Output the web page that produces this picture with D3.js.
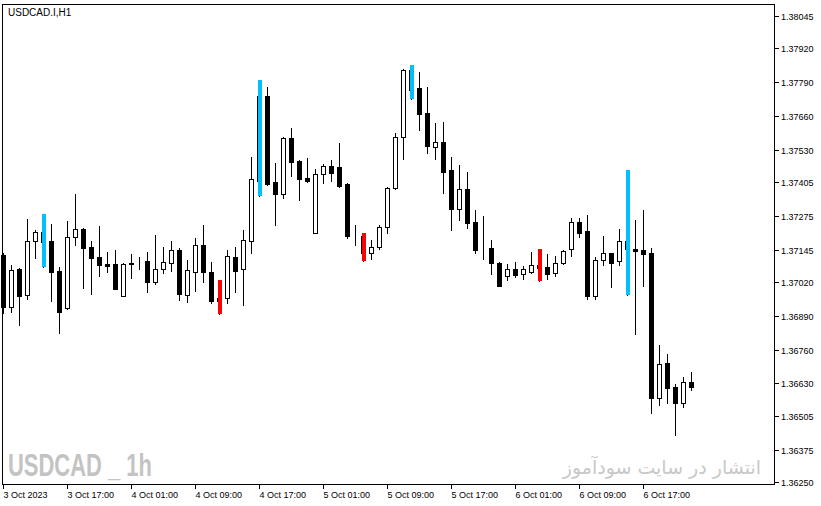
<!DOCTYPE html>
<html>
<head>
<meta charset="utf-8">
<script src="https://cdn.jsdelivr.net/npm/d3@7"></script>
<style>
	body { margin: 0; background: #fff; }
	svg { display: block; }
	text { font-family: "Liberation Sans", Arial, sans-serif; }
</style>
</head>
<body>
<svg id="chart" width="821" height="506"></svg>
<script>
// USDCAD.I H1, one candle per hour from 3 Oct 2023 09:00
var opens = [1.37125,1.36926,1.37071,1.36970,1.37178,1.37212,1.37179,1.37063,1.36922,1.37193,
	1.37225,1.37156,1.37117,1.37089,1.37090,1.36968,1.37089,1.37096,1.37102,1.37022,
	1.37070,1.37093,1.37144,1.36971,1.37060,1.37163,1.37058,1.36958,1.36958,1.37117,
	1.37070,1.37180,1.37411,1.37735,1.37406,1.37361,1.37575,1.37488,1.37421,1.37211,
	1.37436,1.37468,1.37463,1.37398,1.37198,1.37199,1.37131,1.37157,1.37231,1.37382,
	1.37578,1.37837,1.37768,1.37673,1.37542,1.37560,1.37452,1.37303,1.37379,1.37251,
	1.37146,1.37151,1.37094,1.37043,1.37070,1.37051,1.37058,1.37086,1.37078,1.37054,
	1.37093,1.37147,1.37251,1.37217,1.36968,1.37104,1.37131,1.37100,1.37179,1.37147,
	1.37144,1.37131,1.36575,1.36708,1.36615,1.36553,1.36636];
var highs = [1.37134,1.37086,1.37074,1.37262,1.37221,1.37283,1.37244,1.37077,1.37255,1.37360,
	1.37230,1.37179,1.37236,1.37137,1.37144,1.37094,1.37130,1.37116,1.37135,1.37202,
	1.37154,1.37179,1.37151,1.37105,1.37189,1.37240,1.37099,1.37029,1.37143,1.37156,
	1.37221,1.37501,1.37799,1.37773,1.37480,1.37580,1.37614,1.37491,1.37498,1.37457,
	1.37475,1.37491,1.37555,1.37400,1.37240,1.37208,1.37183,1.37240,1.37388,1.37596,
	1.37841,1.37857,1.37830,1.37771,1.37634,1.37637,1.37501,1.37471,1.37443,1.37298,
	1.37275,1.37183,1.37098,1.37090,1.37098,1.37082,1.37136,1.37148,1.37129,1.37121,
	1.37144,1.37266,1.37266,1.37279,1.37118,1.37198,1.37132,1.37225,1.37452,1.37260,
	1.37298,1.37151,1.36778,1.36743,1.36628,1.36653,1.36674];
var lows = [1.36901,1.36903,1.36855,1.36956,1.37114,1.37080,1.36949,1.36825,1.36918,1.37161,
	1.36999,1.36976,1.37045,1.37057,1.36994,1.36967,1.37034,1.37070,1.36983,1.37013,
	1.37054,1.37063,1.36951,1.36945,1.36987,1.37022,1.36941,1.36898,1.36939,1.36983,
	1.36932,1.37131,1.37352,1.37394,1.37240,1.37345,1.37429,1.37337,1.37407,1.37210,
	1.37403,1.37411,1.37386,1.37189,1.37163,1.37103,1.37110,1.37148,1.37208,1.37379,
	1.37493,1.37726,1.37606,1.37519,1.37496,1.37362,1.37221,1.37260,1.37227,1.37134,
	1.37110,1.37052,1.37005,1.37029,1.37038,1.37031,1.37056,1.37026,1.37032,1.37045,
	1.37089,1.37122,1.37195,1.36953,1.36954,1.37087,1.37003,1.37084,1.36971,1.36820,
	1.37005,1.36517,1.36547,1.36556,1.36431,1.36540,1.36605];
var closes = [1.36926,1.37067,1.36968,1.37179,1.37212,1.37176,1.37060,1.36906,1.37193,1.37224,
	1.37153,1.37111,1.37087,1.37082,1.36995,1.37089,1.37093,1.37098,1.37022,1.37070,
	1.37097,1.37143,1.36973,1.37066,1.37163,1.37058,1.36949,1.36949,1.37121,1.37064,
	1.37181,1.37416,1.37737,1.37398,1.37360,1.37575,1.37483,1.37419,1.37411,1.37436,
	1.37467,1.37442,1.37392,1.37199,1.37196,1.37131,1.37157,1.37231,1.37382,1.37578,
	1.37837,1.37760,1.37668,1.37546,1.37560,1.37446,1.37303,1.37379,1.37249,1.37144,
	1.37148,1.37093,1.37006,1.37070,1.37049,1.37070,1.37087,1.37076,1.37053,1.37093,
	1.37140,1.37251,1.37211,1.36968,1.37105,1.37131,1.37095,1.37179,1.37147,1.37141,
	1.37130,1.36575,1.36704,1.36613,1.36553,1.36636,1.36617];

// bars the signal indicator painted
var blueBars = [5, 32, 51, 78];
var redBars = [27, 45, 67];

var priceTicks = [1.38045,1.37920,1.37790,1.37660,1.37530,1.37405,1.37275,1.37145,
	1.37020,1.36890,1.36760,1.36630,1.36505,1.36375,1.36250];
var timeTickBars = [0, 8, 16, 24, 32, 40, 48, 56, 64, 72, 80];
var timeTickLabels = ['3 Oct 2023','3 Oct 17:00','4 Oct 01:00','4 Oct 09:00','4 Oct 17:00',
	'5 Oct 01:00','5 Oct 09:00','5 Oct 17:00','6 Oct 01:00','6 Oct 09:00','6 Oct 17:00'];

var svg = d3.select('#chart');
var frameLeft = 2.5, frameTop = 4.5, frameRight = 774.5, frameBottom = 484.5;

var candles = opens.map(function (o, i) {
	return { i: i, open: o, high: highs[i], low: lows[i], close: closes[i] };
});

var xScale = d3.scaleLinear().domain([0, 86]).range([3.5, 691.5]);
var yScale = d3.scaleLinear().domain([1.36250, 1.38045]).range([482, 16]);

// watermark texts
svg.append('text')
	.attr('x', 8).attr('y', 476)
	.attr('textLength', 144).attr('lengthAdjust', 'spacingAndGlyphs')
	.style('font-family', '"Liberation Sans Narrow", "Liberation Sans", sans-serif')
	.style('font-weight', 'bold').style('font-size', '31px')
	.attr('fill', '#c3c3c3')
	.text('USDCAD _ 1h');
svg.append('text')
	.attr('x', 761).attr('y', 474)
	.attr('text-anchor', 'end')
	.style('font-family', '"DejaVu Sans", sans-serif')
	.style('font-size', '19px')
	.attr('fill', '#c8c8c8')
	.text('انتشار در سایت سودآموز');

var g = svg.append('g').attr('shape-rendering', 'crispEdges');

// wicks
g.append('g').selectAll('line').data(candles).enter()
	.append('line')
	.attr('x1', function (d) { return Math.floor(xScale(d.i)) + 0.5; })
	.attr('x2', function (d) { return Math.floor(xScale(d.i)) + 0.5; })
	.attr('y1', function (d) { return Math.round(yScale(d.high)); })
	.attr('y2', function (d) { return Math.round(yScale(d.low)) + 1; })
	.attr('stroke', '#000').attr('stroke-width', 1);

// bodies
g.append('g').selectAll('rect').data(candles).enter()
	.append('rect')
	.attr('x', function (d) { return Math.floor(xScale(d.i)) - 1.5; })
	.attr('y', function (d) { return Math.round(yScale(Math.max(d.open, d.close))) + 0.5; })
	.attr('width', 4)
	.attr('height', function (d) {
		return Math.max(0, Math.round(yScale(Math.min(d.open, d.close))) - Math.round(yScale(Math.max(d.open, d.close))));
	})
	.attr('fill', function (d) { return d.close < d.open ? '#000' : '#fff'; })
	.attr('stroke', '#000').attr('stroke-width', 1);

// signal bars, high to low
function drawSignal(bars, colour) {
	g.append('g').selectAll('rect').data(bars).enter()
		.append('rect')
		.attr('x', function (i) { return Math.floor(xScale(i)) - 1; })
		.attr('y', function (i) { return Math.round(yScale(highs[i])); })
		.attr('width', 4)
		.attr('height', function (i) { return Math.round(yScale(lows[i])) - Math.round(yScale(highs[i])); })
		.attr('fill', colour);
}
drawSignal(blueBars, '#00bfff');
drawSignal(redBars, '#ff0000');

// frame
svg.append('rect')
	.attr('x', frameLeft).attr('y', frameTop)
	.attr('width', frameRight - frameLeft).attr('height', frameBottom - frameTop)
	.attr('fill', 'none').attr('stroke', '#000').attr('stroke-width', 1)
	.attr('shape-rendering', 'crispEdges');

svg.append('text')
	.attr('x', 8).attr('y', 16)
	.style('font-size', '10px').attr('fill', '#000')
	.text('USDCAD.I,H1');

// price axis
var yAxis = svg.append('g').attr('shape-rendering', 'crispEdges');
yAxis.selectAll('line').data(priceTicks).enter()
	.append('line')
	.attr('x1', frameRight).attr('x2', frameRight + 4)
	.attr('y1', function (d) { return Math.round(yScale(d)) + 0.5; })
	.attr('y2', function (d) { return Math.round(yScale(d)) + 0.5; })
	.attr('stroke', '#000');
yAxis.selectAll('text').data(priceTicks).enter()
	.append('text')
	.attr('x', frameRight + 6.5)
	.attr('y', function (d) { return Math.round(yScale(d)) + 4; })
	.style('font-size', '9px').attr('fill', '#000')
	.text(function (d) { return d3.format('.5f')(d); });

// time axis
var xAxis = svg.append('g').attr('shape-rendering', 'crispEdges');
xAxis.selectAll('line').data(timeTickBars).enter()
	.append('line')
	.attr('x1', function (d) { return Math.floor(xScale(d)) + 0.5; })
	.attr('x2', function (d) { return Math.floor(xScale(d)) + 0.5; })
	.attr('y1', frameBottom).attr('y2', frameBottom + 4)
	.attr('stroke', '#000');
xAxis.selectAll('text').data(timeTickBars).enter()
	.append('text')
	.attr('x', function (d) { return Math.floor(xScale(d)) + 0.5; })
	.attr('y', 498)
	.style('font-size', '9px').attr('fill', '#000')
	.text(function (d, i) { return timeTickLabels[i]; });
</script>
</body>
</html>
